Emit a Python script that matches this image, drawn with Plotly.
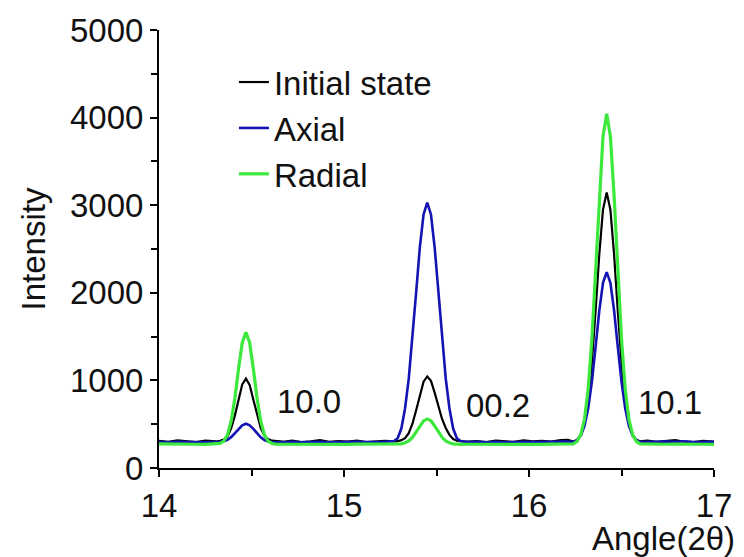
import plotly.graph_objects as go

# 2-theta angle grid (degrees)
angle = [
    14.00, 14.05, 14.10, 14.15, 14.20, 14.25, 14.29,
    14.31, 14.33, 14.35, 14.37, 14.39, 14.41, 14.43, 14.45, 14.47, 14.49, 14.51, 14.53, 14.55, 14.57, 14.59, 14.61, 14.63,
    14.67, 14.72, 14.77, 14.82, 14.87, 14.92, 14.97, 15.02, 15.07, 15.12, 15.17, 15.22,
    15.27, 15.29, 15.31, 15.33, 15.35, 15.37, 15.39, 15.41, 15.43, 15.45, 15.47, 15.49, 15.51, 15.53, 15.55, 15.57, 15.59, 15.61, 15.63,
    15.67, 15.72, 15.77, 15.82, 15.87, 15.92, 15.97, 16.02, 16.07, 16.12, 16.17, 16.21,
    16.24, 16.26, 16.28, 16.30, 16.32, 16.34, 16.36, 16.38, 16.40, 16.42, 16.44, 16.46, 16.48, 16.50, 16.52, 16.54, 16.56, 16.58, 16.60,
    16.64, 16.69, 16.74, 16.79, 16.84, 16.89, 16.94, 17.00,
]

initial_state = [
    310, 298, 315, 302, 295, 312, 305,
    303, 310, 324, 358, 452, 598, 790, 955, 1020, 948, 780, 602, 455, 368, 330, 312, 308,
    300, 312, 296, 305, 318, 299, 308, 302, 314, 297, 306, 310,
    303, 306, 318, 340, 398, 505, 660, 838, 985, 1045, 995, 860, 700, 560, 455, 378, 330, 312, 305,
    300, 308, 296, 312, 303, 298, 315, 305, 310, 302, 318, 322,
    302, 320, 380, 512, 775, 1205, 1795, 2440, 2950, 3146, 2948, 2436, 1792, 1202, 772, 508, 378, 322, 305,
    312, 298, 305, 318, 300, 296, 310, 302,
]

axial = [
    300, 292, 298, 294, 296, 292, 297,
    295, 298, 305, 322, 352, 396, 447, 488, 505, 488, 446, 395, 350, 318, 303, 297, 295,
    294, 298, 292, 296, 300, 294, 297, 293, 298, 295, 296, 299,
    308, 340, 450, 680, 1020, 1475, 2005, 2520, 2895, 3030, 2895, 2520, 2005, 1475, 1020, 680, 450, 340, 308,
    296, 300, 294, 298, 293, 297, 300, 295, 298, 296, 300, 303,
    297, 318, 371, 480, 681, 987, 1383, 1797, 2115, 2236, 2115, 1797, 1383, 987, 681, 480, 371, 318, 297,
    300, 296, 302, 298, 305, 297, 300, 298,
]

radial = [
    275, 272, 270, 273, 271, 270, 272,
    273, 280, 307, 379, 534, 796, 1133, 1430, 1550, 1430, 1133, 796, 534, 379, 307, 280, 273,
    272, 270, 271, 273, 270, 272, 271, 270, 272, 271, 270, 272,
    270, 272, 276, 287, 310, 350, 410, 480, 538, 560, 538, 480, 410, 350, 310, 287, 276, 272, 270,
    271, 270, 272, 271, 270, 273, 271, 272, 270, 272, 273, 275,
    276, 303, 382, 556, 904, 1475, 2257, 3108, 3784, 4045, 3784, 3108, 2257, 1475, 904, 556, 382, 303, 276,
    272, 270, 271, 273, 270, 272, 271, 270,
]

series_names = ["Initial state", "Axial", "Radial"]
series_colors = ["#000000", "#1414b4", "#3ce83c"]
series_widths = [2.2, 2.6, 3.2]

peak_labels = ["10.0", "00.2", "10.1"]
peak_label_x = [14.81, 15.83, 16.76]
peak_label_y = [760, 710, 745]

FONT = "Liberation Sans, Arial, sans-serif"
FS = 33

fig = go.Figure()
for name, ys, col, w in zip(series_names, [initial_state, axial, radial], series_colors, series_widths):
    fig.add_trace(go.Scatter(x=angle, y=ys, mode="lines", name=name,
                             line=dict(color=col, width=w), legendgroup=name))

for t, x, y in zip(peak_labels, peak_label_x, peak_label_y):
    fig.add_annotation(x=x, y=y, text=t, showarrow=False,
                       font=dict(family=FONT, size=FS, color="#111111"))

fig.add_annotation(xref="paper", yref="paper", x=1.042, y=-0.162, text="Angle(2θ)",
                   showarrow=False, xanchor="right", yanchor="middle",
                   font=dict(family=FONT, size=FS, color="#111111"))

axis_common = dict(showline=True, linecolor="#000000", linewidth=2, showgrid=False,
                   zeroline=False, ticks="outside", ticklen=7, tickwidth=2, tickcolor="#000000",
                   tickfont=dict(family=FONT, size=FS, color="#111111"))

fig.update_xaxes(range=[14, 17], tickvals=[14, 15, 16, 17],
                 minor=dict(tickvals=[14.5, 15.5, 16.5], ticks="outside", ticklen=6,
                            tickwidth=2, tickcolor="#000000"),
                 **axis_common)
fig.update_yaxes(range=[0, 5000], tickvals=[0, 1000, 2000, 3000, 4000, 5000],
                 minor=dict(tickvals=[500, 1500, 2500, 3500, 4500], ticks="outside", ticklen=6,
                            tickwidth=2, tickcolor="#000000"),
                 title=dict(text="Intensity", standoff=14,
                            font=dict(family=FONT, size=FS, color="#111111")),
                 **axis_common)

fig.update_layout(
    width=744, height=557,
    margin=dict(l=159, r=27, t=23, b=89),
    paper_bgcolor="white", plot_bgcolor="white",
    showlegend=True,
    legend=dict(x=0.135, y=0.945, xanchor="left", yanchor="top",
                bgcolor="rgba(0,0,0,0)", tracegroupgap=0, traceorder="grouped",
                font=dict(family=FONT, size=FS, color="#111111")),
)

fig.write_html("out.html")
